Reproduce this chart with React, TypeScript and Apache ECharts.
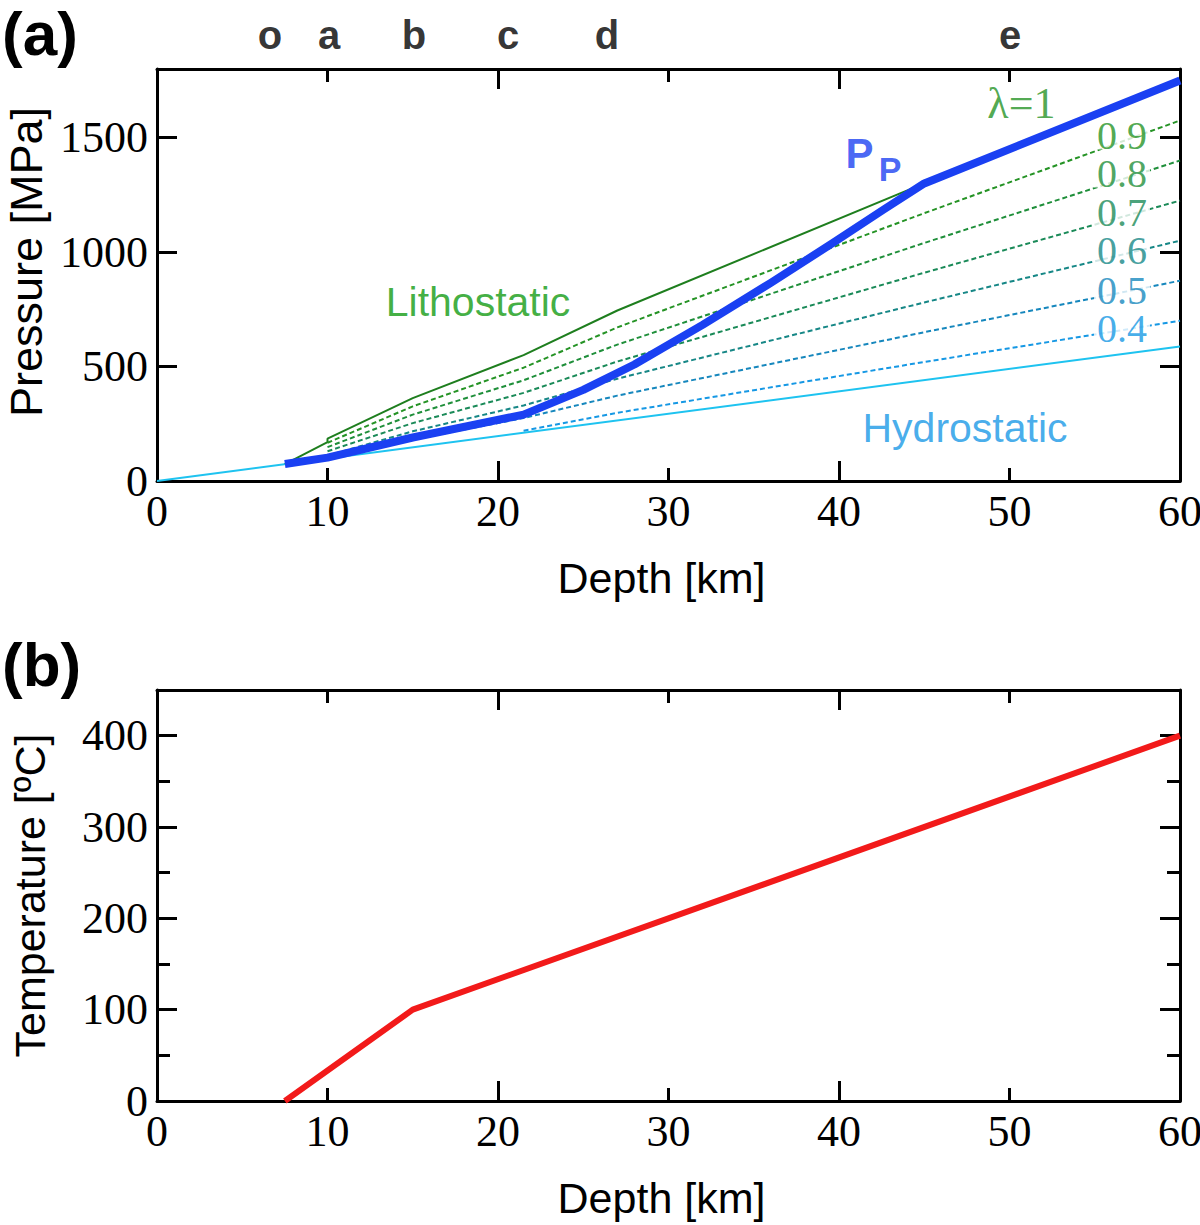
import React, { useEffect, useRef } from "react";
import * as echarts from "echarts";

// ---------- data ----------
const hydroDepth = [0, 60];
const hydroP = [0, 588];

const lithoDepth = [7.5, 10, 10, 15, 21.5, 27, 45];
const lithoP = [74, 170, 185, 362, 550, 745, 1300];

const ppDepth = [7.5, 10, 15, 21.5, 25, 28, 32, 36, 39.6, 42.6, 45, 60];
const ppP = [74, 102, 190, 290, 398, 509, 682, 866, 1038, 1185, 1300, 1750];

const lambdaNames = ["0.9", "0.8", "0.7", "0.6", "0.5", "0.4"];
const lambdaDepths = [
  [10, 15, 21.5, 27, 45, 60],
  [10, 15, 21.5, 27, 45, 60],
  [10, 15, 21.5, 27, 45, 60],
  [10, 15, 21.5, 27, 45, 60],
  [10.7, 15, 21.5, 27, 45, 60],
  [21.5, 27, 45, 60],
];
const lambdaP = [
  [167, 326, 495, 671, 1170, 1575],
  [148, 290, 440, 596, 1040, 1400],
  [130, 253, 385, 522, 910, 1225],
  [111, 217, 330, 447, 780, 1050],
  [105, 181, 275, 373, 650, 875],
  [220, 298, 520, 700],
];
const lambdaColors = ["#259325", "#1f8f3a", "#1a8a58", "#168786", "#1687bd", "#1698e4"];
const lambdaLabelY = [1509, 1343, 1174, 1008, 833, 667];
const lambdaLabelX = 56.6;

const tempDepth = [7.5, 15, 60];
const tempC = [0, 100, 400];

const siteNames = ["o", "a", "b", "c", "d", "e"];
const siteDepth = [6.63, 10.09, 15.07, 20.59, 26.39, 50.03];
const siteLabelP = 1950;

const xTicks = [0, 10, 20, 30, 40, 50, 60];

// ---------- helpers ----------
const SERIF = "Liberation Serif";
const SANS = "Liberation Sans";
const pairs = (xs: number[], ys: number[]) => xs.map((x, i) => [x, ys[i]]);
const plain = (v: number) => String(v);

function makeXAxes(gridIndex: number) {
  const base = {
    type: "value",
    gridIndex,
    min: xTicks[0],
    max: xTicks[xTicks.length - 1],
    offset: 0,
    splitLine: { show: false },
  };
  const line = { show: true, onZero: false, lineStyle: { color: "#000", width: 3 } };
  const noLine = { show: false, onZero: false };
  return [
    {
      ...base,
      position: "bottom",
      interval: 10,
      axisLine: line,
      axisTick: { show: true, inside: true, length: 13, lineStyle: { color: "#000", width: 3 } },
      axisLabel: { show: true, fontFamily: SERIF, fontSize: 44, color: "#000", margin: 8, formatter: plain },
      name: "Depth [km]",
      nameLocation: "middle",
      nameGap: 75,
      nameTextStyle: { fontFamily: SANS, fontSize: 43, color: "#000", padding: [0, 14, 0, 0] },
    },
    {
      ...base,
      position: "bottom",
      interval: 20,
      axisLine: noLine,
      axisTick: { show: true, inside: true, length: 20, lineStyle: { color: "#000", width: 3 } },
      axisLabel: { show: false },
    },
    {
      ...base,
      position: "top",
      interval: 10,
      axisLine: line,
      axisTick: { show: true, inside: true, length: 13, lineStyle: { color: "#000", width: 3 } },
      axisLabel: { show: false },
    },
    {
      ...base,
      position: "top",
      interval: 20,
      axisLine: noLine,
      axisTick: { show: true, inside: true, length: 20, lineStyle: { color: "#000", width: 3 } },
      axisLabel: { show: false },
    },
  ];
}

function yAxis(gridIndex: number, max: number, interval: number, position: string, opts: any) {
  return {
    type: "value",
    gridIndex,
    min: 0,
    max,
    interval,
    position,
    offset: 0,
    splitLine: { show: false },
    axisLine: opts.line
      ? { show: true, onZero: false, lineStyle: { color: "#000", width: 3 } }
      : { show: false, onZero: false },
    axisTick: { show: true, inside: true, length: opts.tick, lineStyle: { color: "#000", width: 3 } },
    axisLabel: opts.name
      ? {
          show: true,
          fontFamily: SERIF,
          fontSize: 44,
          color: "#000",
          margin: 9,
          showMaxLabel: false,
          formatter: plain,
        }
      : { show: false },
    ...(opts.name
      ? {
          name: opts.name,
          nameLocation: "middle",
          nameGap: opts.gap,
          nameTextStyle: {
            fontFamily: SANS,
            fontSize: opts.nameSize,
            color: "#000",
            padding: opts.namePad,
          },
        }
      : {}),
  };
}

function annot(x: number, y: number, text: string, style: any) {
  return {
    value: [x, y],
    label: {
      show: true,
      position: "inside",
      formatter: text,
      ...style,
    },
  };
}

export default function App() {
  const ref = useRef<HTMLDivElement>(null);

  useEffect(() => {
    if (!ref.current) return;
    const chart = echarts.init(ref.current, undefined, { renderer: "svg" });

    const lambdaSeries = lambdaNames.map((n, i) => ({
      type: "line",
      name: "lambda " + n,
      xAxisIndex: 0,
      yAxisIndex: 0,
      data: pairs(lambdaDepths[i], lambdaP[i]),
      symbol: "none",
      lineStyle: { color: lambdaColors[i], width: 2, type: [5, 3] },
      z: 3,
    }));

    const annotations = [
      annot(18.83, 781, "Lithostatic", { color: "#129a12", fontFamily: SANS, fontSize: 41 }),
      annot(47.39, 231, "Hydrostatic", { color: "#1898e6", fontFamily: SANS, fontSize: 41 }),
      annot(41.2, 1430, "P", { color: "#1a40f2", fontFamily: SANS, fontSize: 42, fontWeight: "bold" }),
      annot(43.0, 1365, "P", { color: "#1a40f2", fontFamily: SANS, fontSize: 34, fontWeight: "bold" }),
      annot(50.7, 1648, "λ=1", { color: "#259325", fontFamily: SERIF, fontSize: 44 }),
      ...lambdaNames.map((n, i) =>
        annot(lambdaLabelX, lambdaLabelY[i], n, {
          color: lambdaColors[i],
          fontFamily: SERIF,
          fontSize: 40,
          lineHeight: 28,
          backgroundColor: "#fff",
          padding: [0, 3, 0, 3],
        })
      ),
      ...siteNames.map((n, i) =>
        annot(siteDepth[i], siteLabelP, n, { color: "#000", fontFamily: SANS, fontSize: 40, fontWeight: "bold" })
      ),
    ];

    chart.setOption({
      animation: false,
      backgroundColor: "#fff",
      grid: [
        { left: 157, top: 69, width: 1023, height: 412, containLabel: false, outerBoundsMode: "none" },
        { left: 157, top: 690, width: 1023, height: 411, containLabel: false, outerBoundsMode: "none" },
      ],
      xAxis: [...makeXAxes(0), ...makeXAxes(1)],
      yAxis: [
        yAxis(0, 1800, 500, "left", {
          line: true,
          tick: 20,
          name: "Pressure [MPa]",
          gap: 105,
          nameSize: 45,
          namePad: [0, 0, 0, 26],
        }),
        yAxis(0, 1800, 500, "right", { line: true, tick: 20 }),
        yAxis(1, 450, 100, "left", {
          line: true,
          tick: 20,
          name: "Temperature [ºC]",
          gap: 106,
          nameSize: 43,
          namePad: 0,
        }),
        yAxis(1, 450, 50, "left", { line: false, tick: 13 }),
        yAxis(1, 450, 100, "right", { line: true, tick: 20 }),
        yAxis(1, 450, 50, "right", { line: false, tick: 13 }),
      ],
      graphic: [
        {
          type: "text",
          left: 2,
          top: 2,
          style: { text: "(a)", font: "bold 62px 'Liberation Sans'", fill: "#000" },
        },
        {
          type: "text",
          left: 2,
          top: 633,
          style: { text: "(b)", font: "bold 62px 'Liberation Sans'", fill: "#000" },
        },
      ],
      series: [
        {
          type: "line",
          name: "Hydrostatic",
          xAxisIndex: 0,
          yAxisIndex: 0,
          data: pairs(hydroDepth, hydroP),
          symbol: "none",
          lineStyle: { color: "#1ec3f0", width: 2 },
          z: 2,
        },
        {
          type: "line",
          name: "Lithostatic",
          xAxisIndex: 0,
          yAxisIndex: 0,
          data: pairs(lithoDepth, lithoP),
          symbol: "none",
          lineStyle: { color: "#1e7e1e", width: 2 },
          z: 2,
        },
        ...lambdaSeries,
        {
          type: "line",
          name: "Pp",
          xAxisIndex: 0,
          yAxisIndex: 0,
          data: pairs(ppDepth, ppP),
          symbol: "none",
          lineStyle: { color: "#1a40f2", width: 8, join: "round" },
          z: 5,
        },
        {
          type: "scatter",
          name: "annotations",
          xAxisIndex: 0,
          yAxisIndex: 0,
          symbolSize: 0,
          clip: false,
          data: annotations,
          z: 10,
          silent: true,
        },
        {
          type: "line",
          name: "Temperature",
          xAxisIndex: 4,
          yAxisIndex: 2,
          data: pairs(tempDepth, tempC),
          symbol: "none",
          lineStyle: { color: "#f21a1a", width: 6 },
          z: 5,
        },
      ],
    });

    return () => chart.dispose();
  }, []);

  return (
    <div
      ref={ref}
      style={{ position: "absolute", left: 0, top: 0, width: 1200, height: 1225, background: "#fff" }}
    />
  );
}
